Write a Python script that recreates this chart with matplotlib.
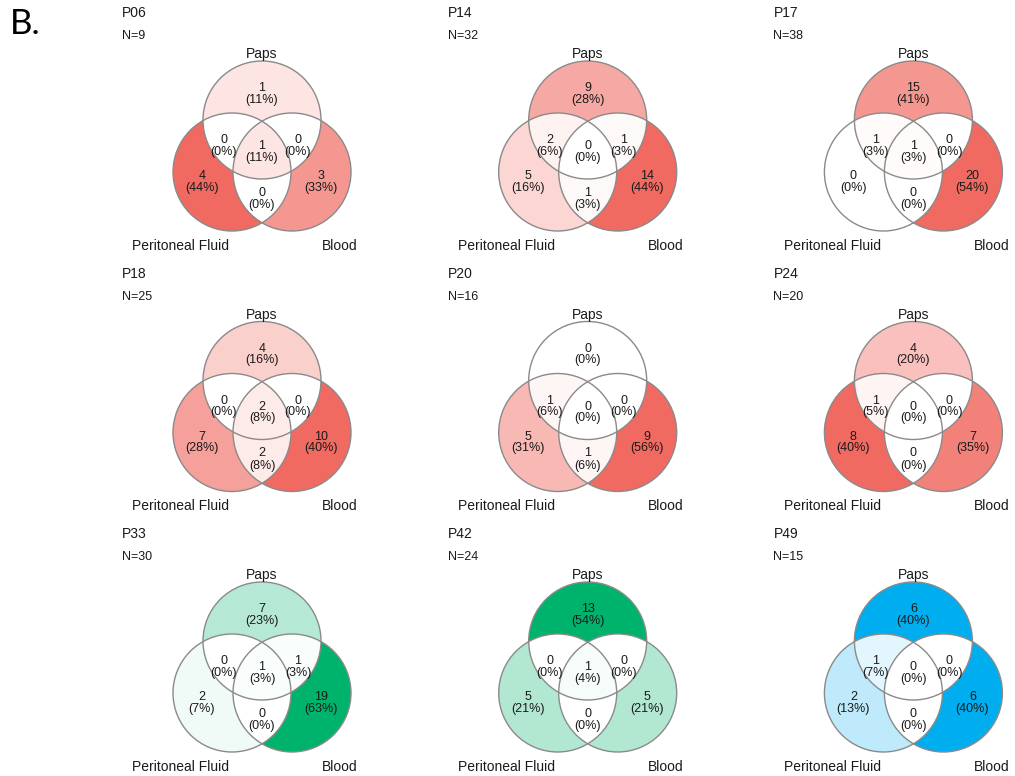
import numpy as np
import matplotlib
matplotlib.use("Agg")
import matplotlib.pyplot as plt
from matplotlib.patches import Circle, PathPatch
from matplotlib.path import Path
from matplotlib.colors import to_rgb

# Patients, sample sizes and per-region counts
patients = ["P06", "P14", "P17", "P18", "P20", "P24", "P33", "P42", "P49"]
n_labels = [9, 32, 38, 25, 16, 20, 30, 24, 15]
set_names = ["Paps", "Peritoneal Fluid", "Blood"]

# Region order: Paps only, Paps&PF, all three, Paps&Blood, PF only, PF&Blood, Blood only
paps_only = [1, 9, 15, 4, 0, 4, 7, 13, 6]
paps_pf = [0, 2, 1, 0, 1, 1, 0, 0, 1]
all_three = [1, 0, 1, 2, 0, 0, 1, 1, 0]
paps_blood = [0, 1, 0, 0, 0, 0, 1, 0, 0]
pf_only = [4, 5, 0, 7, 5, 8, 2, 5, 2]
pf_blood = [0, 1, 0, 2, 1, 0, 0, 0, 0]
blood_only = [3, 14, 20, 10, 9, 7, 19, 5, 6]

panel_colors = ["#F06A61"] * 6 + ["#00B36C", "#00B36C", "#00AEEF"]

plt.rcParams["font.family"] = ["Liberation Sans", "DejaVu Sans"]

fig = plt.figure(figsize=(10.15, 7.76), dpi=100)
ax = fig.add_axes([0, 0, 1, 1])
ax.set_xlim(0, 1015)
ax.set_ylim(776, 0)
ax.axis("off")

R = 59.0
DX, DY = 30.0, 52.0
EDGE = "#8a8a8a"
TXT = "#1a1a1a"


def shade(base, frac):
    # white-to-base ramp, slightly eased so that low counts stay pale
    b = np.array(to_rgb(base))
    f = frac ** 1.25
    return tuple(1 - (1 - b) * f)


def lens_path(c1, c2, r, n=120):
    c1 = np.asarray(c1, float)
    c2 = np.asarray(c2, float)
    d = np.linalg.norm(c2 - c1)
    th = np.arctan2(c2[1] - c1[1], c2[0] - c1[0])
    a = np.arccos(d / (2 * r))
    t1 = np.linspace(th - a, th + a, n)
    t2 = np.linspace(th + np.pi - a, th + np.pi + a, n)
    p1 = c1 + r * np.column_stack([np.cos(t1), np.sin(t1)])
    p2 = c2 + r * np.column_stack([np.cos(t2), np.sin(t2)])
    pts = np.vstack([p1, p2, p1[:1]])
    codes = [Path.MOVETO] + [Path.LINETO] * (len(pts) - 2) + [Path.CLOSEPOLY]
    return Path(pts, codes)


for i, pid in enumerate(patients):
    row, col = divmod(i, 3)
    cx = 262 + 325.7 * col
    cy = 120 + 260.5 * row
    cA = (cx, cy)
    cB = (cx - DX, cy + DY)
    cC = (cx + DX, cy + DY)

    counts = [paps_only[i], paps_pf[i], all_three[i], paps_blood[i],
              pf_only[i], pf_blood[i], blood_only[i]]
    total = sum(counts)
    cmax = max(counts)
    cols = [shade(panel_colors[i], c / cmax) for c in counts]

    # single-set areas
    for c, colr in ((cA, cols[0]), (cB, cols[4]), (cC, cols[6])):
        ax.add_patch(Circle(c, R, facecolor=colr, edgecolor="none", zorder=1))

    # pairwise overlaps
    for (c1, c2), colr in (((cA, cB), cols[1]), ((cA, cC), cols[3]), ((cB, cC), cols[5])):
        p = Circle(c2, R, facecolor=colr, edgecolor="none", zorder=2)
        ax.add_patch(p)
        p.set_clip_path(Circle(c1, R, transform=ax.transData))

    # triple overlap
    p = Circle(cC, R, facecolor=cols[2], edgecolor="none", zorder=3)
    ax.add_patch(p)
    p.set_clip_path(PathPatch(lens_path(cA, cB, R), transform=ax.transData))

    for c in (cA, cB, cC):
        ax.add_patch(Circle(c, R, facecolor="none", edgecolor=EDGE, lw=1.0, zorder=4))

    offsets = [(0, -26), (-38, 26), (0, 32), (36, 26), (-60, 62), (0, 79), (59, 62)]
    for (ox, oy), c in zip(offsets, counts):
        pct = int(100 * c / total + 0.5)
        ax.text(cx + ox, cy + oy, f"{c}\n({pct}%)", ha="center", va="center",
                fontsize=9, color=TXT, linespacing=1.0, zorder=5)

    ax.text(cx, cy - 66, set_names[0], ha="center", va="center", fontsize=10, color=TXT, zorder=5)
    ax.text(cx - 81, cy + 126, set_names[1], ha="center", va="center", fontsize=10, color=TXT, zorder=5)
    ax.text(cx + 78, cy + 126, set_names[2], ha="center", va="center", fontsize=10, color=TXT, zorder=5)

    ax.text(cx - 140, cy - 107, pid, ha="left", va="center", fontsize=10, color=TXT)
    ax.text(cx - 140, cy - 84, f"N={n_labels[i]}", ha="left", va="center", fontsize=9, color=TXT)

fig.text(10 / 1015, 1 - 24 / 776, "B.", ha="left", va="center", fontsize=25,
         family=["Lato", "DejaVu Sans"], color="black")

fig.savefig("out.png", dpi=100)
